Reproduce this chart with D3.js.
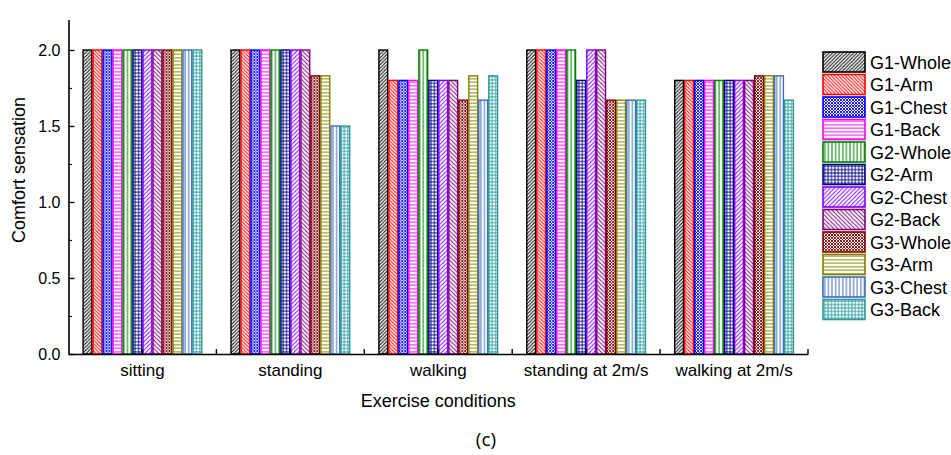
<!DOCTYPE html>
<html>
<head>
<meta charset="utf-8">
<script src="https://cdn.jsdelivr.net/npm/d3@7"></script>
<style>
  body { margin: 0; background: #fff; }
  svg text { font-family: Arial, "Liberation Sans", sans-serif; fill: #000; }
</style>
</head>
<body>
<svg id="chart" width="951" height="455"></svg>
<script>
// data
const conditions = ["sitting", "standing", "walking", "standing at 2m/s", "walking at 2m/s"];
const seriesNames = ["G1-Whole", "G1-Arm", "G1-Chest", "G1-Back", "G2-Whole", "G2-Arm",
                     "G2-Chest", "G2-Back", "G3-Whole", "G3-Arm", "G3-Chest", "G3-Back"];
const sitting      = [2, 2, 2, 2, 2, 2, 2, 2, 2, 2, 2, 2];
const standing     = [2, 2, 2, 2, 2, 2, 2, 2, 1.83, 1.83, 1.5, 1.5];
const walking      = [2, 1.8, 1.8, 1.8, 2, 1.8, 1.8, 1.8, 1.67, 1.83, 1.67, 1.83];
const standing2ms  = [2, 2, 2, 2, 2, 1.8, 2, 2, 1.67, 1.67, 1.67, 1.67];
const walking2ms   = [1.8, 1.8, 1.8, 1.8, 1.8, 1.8, 1.8, 1.8, 1.83, 1.83, 1.83, 1.67];
const yTicks = [0, 0.5, 1.0, 1.5, 2.0];

const values = [sitting, standing, walking, standing2ms, walking2ms];

// style of each series: colour + hatch kind
const colors = ["#000000", "#ff0000", "#0000ff", "#ff00ff", "#008000", "#000080",
                "#8000ff", "#800080", "#800000", "#808000", "#3d6eb4", "#2a9a9a"];
const hatch  = ["fwd", "back", "cross", "horiz", "vert", "grid",
                "fwdw", "backw", "cross", "horiz", "vert", "grid"];

const svg = d3.select("#chart");
const defs = svg.append("defs");

hatch.forEach((h, i) => {
  const c = colors[i];
  let s = 3.5;
  if (h === "fwdw" || h === "backw") s = 4.2;
  if (h === "cross") s = 3;
  if (h === "grid") s = 3.4;
  if (h === "vert") s = 3.6;
  const p = defs.append("pattern")
    .attr("id", "pat" + i)
    .attr("patternUnits", "userSpaceOnUse")
    .attr("width", s).attr("height", s);
  p.append("rect").attr("width", s).attr("height", s).attr("fill", "#fff");
  const line = (ax, ay, bx, by, w) => p.append("line")
    .attr("x1", ax).attr("y1", ay).attr("x2", bx).attr("y2", by)
    .attr("stroke", c).attr("stroke-width", w || 1);
  if (h === "fwd" || h === "fwdw") {
    line(0, s, s, 0); line(-1, 1, 1, -1); line(s - 1, s + 1, s + 1, s - 1);
  } else if (h === "back" || h === "backw") {
    line(0, 0, s, s); line(-1, s - 1, 1, s + 1); line(s - 1, -1, s + 1, 1);
  } else if (h === "cross") {
    line(0, 0, s, s, 0.9); line(0, s, s, 0, 0.9);
  } else if (h === "horiz") {
    line(0, s / 2, s, s / 2);
  } else if (h === "vert") {
    line(s / 2, 0, s / 2, s);
  } else if (h === "grid") {
    line(0, s / 2, s, s / 2, 0.9); line(s / 2, 0, s / 2, s, 0.9);
  }
});

const plotL = 68.5, plotR = 808, plotT = 19.6, plotB = 354;

const x0 = d3.scaleBand()
  .domain(conditions)
  .range([plotL, plotR])
  .paddingInner(28 / 148)
  .paddingOuter(14 / 148);

const x1 = d3.scaleBand()
  .domain(seriesNames)
  .range([0, x0.bandwidth()]);

const y = d3.scaleLinear().domain([0, 2.2]).range([plotB, plotT]);

// bars
const groups = svg.append("g").selectAll("g")
  .data(conditions)
  .join("g")
  .attr("transform", d => `translate(${x0(d)},0)`);

groups.selectAll("rect")
  .data((d, ci) => seriesNames.map((s, si) => ({ s, si, v: values[ci][si] })))
  .join("rect")
  .attr("x", d => x1(d.s) + 0.6)
  .attr("y", d => y(d.v))
  .attr("width", x1.bandwidth() - 1.2)
  .attr("height", d => y(0) - y(d.v))
  .attr("fill", d => `url(#pat${d.si})`)
  .attr("stroke", d => colors[d.si])
  .attr("stroke-width", 1.4);

// y axis
const yAxis = svg.append("g")
  .attr("transform", `translate(${plotL},0)`)
  .call(d3.axisLeft(y).tickValues(yTicks).tickFormat(d3.format(".1f"))
    .tickSizeInner(-6).tickSizeOuter(0).tickPadding(8));
yAxis.select(".domain").attr("stroke-width", 1.6);
yAxis.selectAll(".tick line").attr("stroke-width", 1.4);
yAxis.selectAll("text").style("font-size", "16px")
  .style("font-family", "Arial, 'Liberation Sans', sans-serif");

svg.append("g")
  .attr("transform", `translate(${plotL},0)`)
  .call(d3.axisLeft(y).tickValues([0.25, 0.75, 1.25, 1.75])
    .tickFormat("").tickSizeInner(-3.5).tickSizeOuter(0))
  .call(g => g.select(".domain").remove())
  .selectAll(".tick line").attr("stroke-width", 1.2);

// x axis
const xAxis = svg.append("g")
  .attr("transform", `translate(0,${plotB})`)
  .call(d3.axisBottom(x0).tickSizeInner(-5).tickSizeOuter(0).tickPadding(10));
xAxis.select(".domain").attr("stroke-width", 1.6);
xAxis.selectAll(".tick line").attr("stroke-width", 1.4);
xAxis.selectAll("text").style("font-size", "17px")
  .style("font-family", "Arial, 'Liberation Sans', sans-serif");

// minor ticks between categories
const bounds = conditions.map(c => x0(c) - x0.step() * x0.paddingInner() / 2 + x0.step());
svg.append("g").selectAll("line")
  .data(bounds)
  .join("line")
  .attr("x1", d => d).attr("x2", d => d)
  .attr("y1", plotB).attr("y2", plotB - 5)
  .attr("stroke", "#000").attr("stroke-width", 1.4);

// axis titles
svg.append("text")
  .attr("x", (plotL + plotR) / 2).attr("y", 407)
  .attr("text-anchor", "middle")
  .style("font-size", "18px")
  .text("Exercise conditions");

svg.append("text")
  .attr("transform", `translate(25,170) rotate(-90)`)
  .attr("text-anchor", "middle")
  .style("font-size", "18px")
  .text("Comfort sensation");

svg.append("text")
  .attr("x", 486).attr("y", 446)
  .attr("text-anchor", "middle")
  .style("font-size", "19px")
  .style("font-family", "'Open Sans', sans-serif")
  .text("(c)");

// legend
const legend = svg.append("g").selectAll("g")
  .data(seriesNames)
  .join("g")
  .attr("transform", (d, i) => `translate(823,${52 + i * 22.5})`);

legend.append("rect")
  .attr("width", 42).attr("height", 20)
  .attr("fill", (d, i) => `url(#pat${i})`)
  .attr("stroke", (d, i) => colors[i])
  .attr("stroke-width", 1.6);

legend.append("text")
  .attr("x", 47).attr("y", 16.5)
  .style("font-size", "18px")
  .text(d => d);
</script>
</body>
</html>
